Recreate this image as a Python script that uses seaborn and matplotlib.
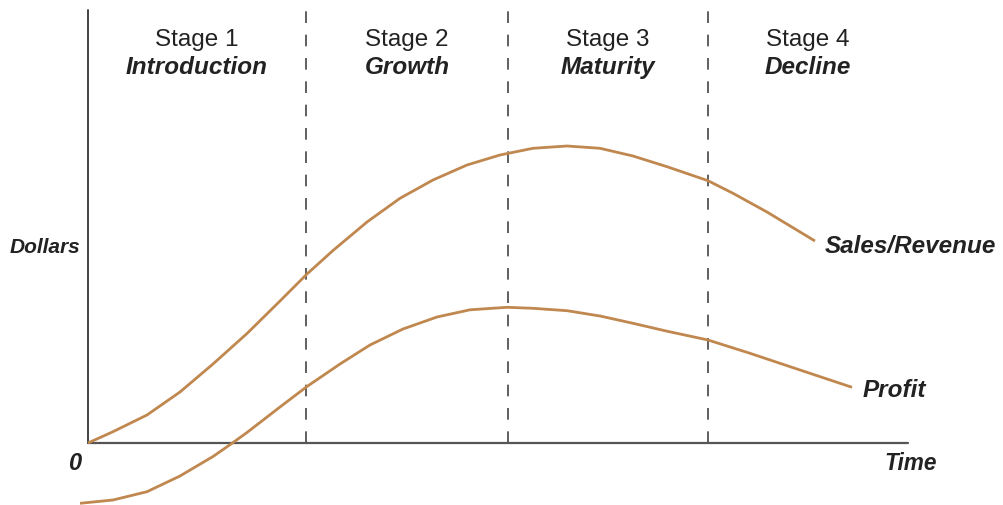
import matplotlib
matplotlib.use("Agg")
import matplotlib.pyplot as plt
import seaborn as sns
import pandas as pd

sns.set_theme(style="white")
plt.rcParams["font.family"] = ["Liberation Sans", "DejaVu Sans"]

# Product life cycle: time (arbitrary units) vs dollars (arbitrary units)
sales_time = [0.0, 2.5, 5.9, 9.2, 12.5, 15.9, 19.2, 21.9, 24.5, 27.9, 31.2,
              34.5, 37.9, 41.2, 44.5, 47.9, 51.2, 54.5, 57.9, 62.0, 64.5,
              67.9, 72.7]
sales_dollars = [0.0, 1.13, 2.8, 5.1, 7.9, 10.95, 14.2, 16.9, 19.25, 22.1,
                 24.47, 26.3, 27.8, 28.8, 29.47, 29.7, 29.47, 28.7, 27.63,
                 26.23, 24.97, 23.1, 20.2]

profit_time = [-0.8, 2.5, 5.9, 9.2, 12.5, 14.4, 15.9, 19.2, 21.9, 25.2, 28.2,
               31.5, 34.9, 38.2, 41.9, 44.5, 47.9, 51.2, 54.5, 57.9, 62.0,
               66.2, 71.2, 76.4]
profit_dollars = [-6.03, -5.7, -4.87, -3.3, -1.35, -0.03, 1.05, 3.6, 5.65,
                  7.9, 9.8, 11.4, 12.6, 13.32, 13.57, 13.47, 13.23, 12.7,
                  11.97, 11.18, 10.3, 8.97, 7.3, 5.57]

stage_bounds = [0.0, 21.8, 42.0, 62.0, 82.0]
stage_names = ["Stage 1", "Stage 2", "Stage 3", "Stage 4"]
stage_titles = ["Introduction", "Growth", "Maturity", "Decline"]
axis_top = 43.3

curve_color = "#C0874F"
text_color = "#222222"

fig = plt.figure(figsize=(10.04, 5.05), dpi=100)
ax = fig.add_axes([0, 0, 1, 1])
ax.set_xlim(-8.8, 91.6)
ax.set_ylim(-6.2, 44.3)
ax.set_axis_off()

sales_df = pd.DataFrame({"time": sales_time, "dollars": sales_dollars})
profit_df = pd.DataFrame({"time": profit_time, "dollars": profit_dollars})
for df in (sales_df, profit_df):
    sns.lineplot(data=df, x="time", y="dollars", sort=False, estimator=None,
                 color=curve_color, linewidth=2.0, ax=ax, zorder=3)
for line in ax.lines:
    line.set_solid_joinstyle("round")
    line.set_solid_capstyle("butt")

# axes
ax.plot([stage_bounds[0], stage_bounds[-1]], [0, 0], color="#555555", lw=1.6, zorder=2)
ax.plot([0, 0], [0, axis_top], color="#444444", lw=1.4, zorder=2)

# stage dividers
for xb in stage_bounds[1:-1]:
    ax.plot([xb, xb], [0, axis_top], color="#444444", lw=1.2,
            linestyle=(0, (7, 7)), zorder=1)

for i, (name, title) in enumerate(zip(stage_names, stage_titles)):
    xc = (stage_bounds[i] + stage_bounds[i + 1]) / 2
    ax.text(xc, 39.7, name, ha="center", va="baseline", fontsize=17.5,
            color=text_color)
    ax.text(xc, 36.9, title, ha="center", va="baseline", fontsize=17.5,
            fontweight="bold", fontstyle="italic", color=text_color)

bold_it = dict(fontweight="bold", fontstyle="italic", color=text_color,
               va="baseline")
ax.text(-4.3, 18.97, "Dollars", ha="center", fontsize=15, **bold_it)
ax.text(-1.3, -2.7, "0", ha="center", fontsize=17, **bold_it)
ax.text(79.6, -2.7, "Time", ha="left", fontsize=16.3, **bold_it)
ax.text(73.7, 19.03, "Sales/Revenue", ha="left", fontsize=17.5, **bold_it)
ax.text(77.5, 4.63, "Profit", ha="left", fontsize=17.5, **bold_it)

fig.savefig("out.png", dpi=100, facecolor="white")
